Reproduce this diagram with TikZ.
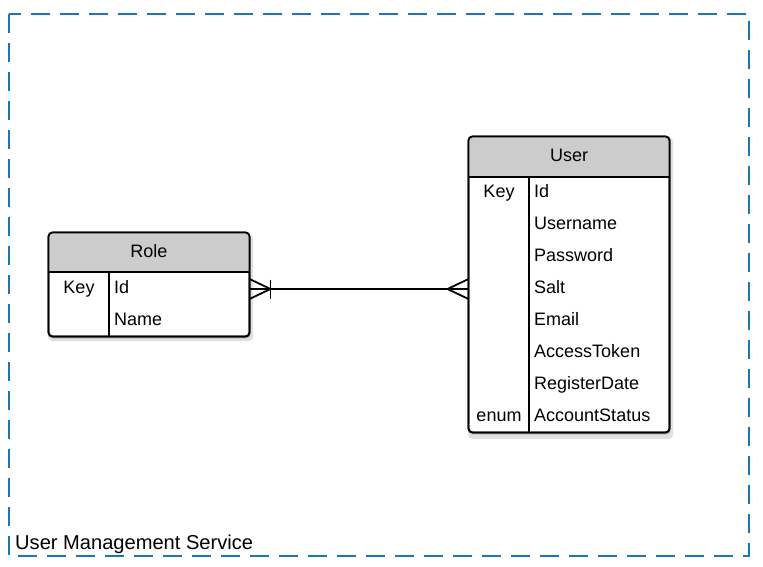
\documentclass[tikz,border=0pt]{standalone}
\usepackage{fontspec}
\setmainfont{Liberation Sans}
\usetikzlibrary{shadows,calc}
\definecolor{frameblue}{RGB}{28,118,176}
\definecolor{hdrgray}{RGB}{204,204,204}
\tikzset{
  tablebox/.style={draw=black, line width=1.8pt, rounded corners=4pt, fill=white,
    general shadow={fill=black, opacity=0.12, shadow xshift=1.5pt, shadow yshift=-3.5pt, shadow scale=1.02},
    general shadow={fill=black, opacity=0.15, shadow xshift=1pt, shadow yshift=-2pt},
    inner sep=0pt, outer sep=0pt},
  tline/.style={draw=black, line width=1.8pt},
  conn/.style={draw=black, line width=1.8pt},
  frame/.style={draw=frameblue, line width=2pt, dash pattern=on 19pt off 10pt},
  ttext/.style={font=\fontsize{18}{21}\selectfont, inner sep=0pt, anchor=base west},
  ktext/.style={font=\fontsize{18}{21}\selectfont, inner sep=0pt, anchor=base},
  htext/.style={font=\fontsize{18}{21}\selectfont, inner sep=0pt, anchor=base},
  flabel/.style={font=\fontsize{20.1}{24}\selectfont, inner sep=0pt, anchor=base west}
}
\begin{document}
\begin{tikzpicture}[x=1pt,y=-1pt]
\useasboundingbox (0,0) rectangle (763,567);
\fill[white] (0,0) rectangle (763,567);
% frame
\draw[frame] (9,14) rectangle (749,556);
\node[flabel] (flab) at (15,549) {User Management Service};

% Role table
\node[tablebox, minimum width=201pt, minimum height=104pt] (role) at (149,284.5) {};
\begin{scope}
  \clip[rounded corners=4pt] (role.north west) rectangle (role.south east);
  \fill[hdrgray] (role.north west) rectangle (249,272);
\end{scope}
\draw[tline, rounded corners=4pt] (role.north west) rectangle (role.south east);
\draw[tline] (48.5,272) -- (249.5,272);
\draw[tline] (109,272) -- (109,336);
\node[htext] (rolehdr) at (149,257.3) {Role};
\node[ktext] (rolekey) at (79,293) {Key};
\node[ttext] (roleid) at (114,293) {Id};
\node[ttext] (rolename) at (114,325) {Name};

% User table
\node[tablebox, minimum width=201pt, minimum height=296pt] (user) at (569,284.5) {};
\begin{scope}
  \clip[rounded corners=4pt] (user.north west) rectangle (user.south east);
  \fill[hdrgray] (user.north west) rectangle (669,177);
\end{scope}
\draw[tline, rounded corners=4pt] (user.north west) rectangle (user.south east);
\draw[tline] (468.5,177) -- (669.5,177);
\draw[tline] (529,177) -- (529,432.5);
\node[htext] (userhdr) at (569,161.7) {User};
\node[ktext] (userkey) at (499,197) {Key};
\node[ttext] (u1) at (534,197) {Id};
\node[ttext] (u2) at (534,229) {Username};
\node[ttext] (u3) at (534,261) {Password};
\node[ttext] (u4) at (534,293) {Salt};
\node[ttext] (u5) at (534,325) {Email};
\node[ttext] (u6) at (534,357) {AccessToken};
\node[ttext] (u7) at (534,389) {RegisterDate};
\node[ktext] (userenum) at (499,421) {enum};
\node[ttext] (u8) at (534,421) {AccountStatus};

% connector
\coordinate (ra) at ([yshift=-4.5pt]role.east);
\coordinate (ua) at ([yshift=-4.5pt]user.west);
\draw[conn] (ra) -- (ua);
% one-or-many at Role end
\draw[conn] ([yshift=10pt]ra) -- ([xshift=21pt]ra) -- ([yshift=-10pt]ra);
\draw[conn] ([xshift=21pt,yshift=9.5pt]ra) -- ([xshift=21pt,yshift=-9.5pt]ra);
% many at User end
\draw[conn] ([yshift=10pt]ua) -- ([xshift=-21pt]ua) -- ([yshift=-10pt]ua);
\end{tikzpicture}
\end{document}
